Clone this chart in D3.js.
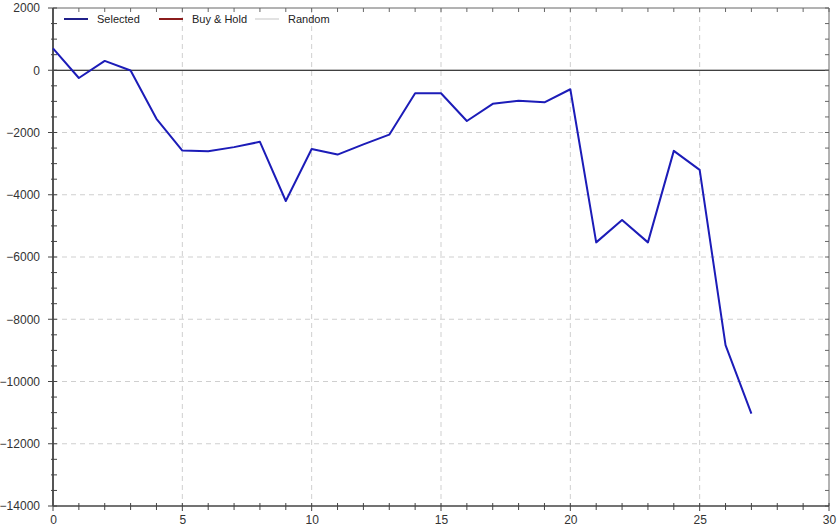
<!DOCTYPE html>
<html><head><meta charset="utf-8">
<script src="https://cdn.jsdelivr.net/npm/d3@7"></script>
<style>body{margin:0;background:#fff}svg{display:block;font-family:Arial,"Liberation Sans",sans-serif}</style>
</head><body><svg id="c" width="839" height="529"></svg>
<script>
const periods = d3.range(0, 28);
const selected = [700, -250, 300, -10, -1560, -2580, -2600, -2470, -2300, -4200, -2530, -2710, -2380, -2070, -740, -740, -1630, -1080, -980, -1030, -610, -5530, -4810, -5530, -2590, -3200, -8830, -11030];
const legendNames = ["Selected", "Buy & Hold", "Random"];
const legendColors = ["#20208a", "#8b1c1c", "#e2e2e2"];
const xTicks = [0, 5, 10, 15, 20, 25, 30];
const yTicks = [2000, 0, -2000, -4000, -6000, -8000, -10000, -12000, -14000];

const W = 839, H = 529, L = 53, R = 829, T = 8, B = 506;
const svg = d3.select("#c");
const x = d3.scaleLinear().domain([0, 30]).range([L, R]);
const y = d3.scaleLinear().domain([-14000, 2000]).range([B, T]);

svg.append("rect").attr("width", W).attr("height", H).attr("fill", "#fff");

// grid
const g = svg.append("g");
g.selectAll("line.gx").data(xTicks.slice(1, -1)).join("line")
  .attr("x1", d => x(d)).attr("x2", d => x(d)).attr("y1", T).attr("y2", B)
  .attr("stroke", "#cfcfcf").attr("stroke-dasharray", "5,4");
g.selectAll("line.gy").data(yTicks.filter(d => d !== 0 && d !== 2000 && d !== -14000)).join("line")
  .attr("x1", L).attr("x2", R).attr("y1", d => y(d)).attr("y2", d => y(d))
  .attr("stroke", "#cfcfcf").attr("stroke-dasharray", "5,4");

// zero line
svg.append("line").attr("x1", L).attr("x2", R).attr("y1", y(0)).attr("y2", y(0))
  .attr("stroke", "#000").attr("stroke-width", 1.2);

// frame top/right
svg.append("line").attr("x1", L).attr("x2", R).attr("y1", T).attr("y2", T).attr("stroke", "#666");
svg.append("line").attr("x1", R).attr("x2", R).attr("y1", T).attr("y2", B).attr("stroke", "#666");

// top/right inward ticks
const xMinor = d3.range(0, 31);
const yMinor = d3.range(-14000, 2001, 500);
svg.selectAll("line.tt").data(xMinor).join("line")
  .attr("x1", d => x(d)).attr("x2", d => x(d)).attr("y1", T).attr("y2", T + 4).attr("stroke", "#666");
svg.selectAll("line.rt").data(yMinor).join("line")
  .attr("x1", R - 4).attr("x2", R).attr("y1", d => y(d)).attr("y2", d => y(d)).attr("stroke", "#666");

// bottom axis
const xa = svg.append("g").attr("transform", `translate(0,${B})`)
  .call(d3.axisBottom(x).tickValues(xTicks).tickSize(0).tickPadding(9).tickFormat(d3.format("d")));
xa.select(".domain").remove();
xa.selectAll("text").attr("font-size", 12).attr("fill", "#333");
svg.append("line").attr("x1", L).attr("x2", R).attr("y1", B).attr("y2", B).attr("stroke", "#444").attr("stroke-width", 1.6);
svg.selectAll("line.bt").data(xMinor).join("line")
  .attr("x1", d => x(d)).attr("x2", d => x(d))
  .attr("y1", B - 3).attr("y2", d => B + (d % 5 === 0 ? 5 : 4)).attr("stroke", "#444");

// left axis
const ya = svg.append("g").attr("transform", `translate(${L},0)`)
  .call(d3.axisLeft(y).tickValues(yTicks).tickSize(0).tickPadding(13).tickFormat(d3.format("d")));
ya.select(".domain").remove();
ya.selectAll("text").attr("font-size", 12).attr("fill", "#333");
svg.append("line").attr("x1", L).attr("x2", L).attr("y1", T).attr("y2", B).attr("stroke", "#555").attr("stroke-width", 2);
svg.selectAll("line.lt").data(yMinor).join("line")
  .attr("x1", d => L - (d % 2000 === 0 ? 5 : 2)).attr("x2", L + 4)
  .attr("y1", d => y(d)).attr("y2", d => y(d)).attr("stroke", "#444");

// series
const line = d3.line().x((d, i) => x(periods[i])).y(d => y(d));
svg.append("path").datum(selected).attr("d", line)
  .attr("fill", "none").attr("stroke", "#1c1cb8").attr("stroke-width", 2).attr("stroke-linejoin", "round");

// legend
const lgX = [64, 159, 255];
const lg = svg.append("g");
legendNames.forEach((n, i) => {
  lg.append("line").attr("x1", lgX[i]).attr("x2", lgX[i] + 24).attr("y1", 19).attr("y2", 19)
    .attr("stroke", legendColors[i]).attr("stroke-width", 2);
  lg.append("text").attr("x", lgX[i] + 33).attr("y", 23).attr("font-size", 11).attr("fill", "#222").text(n);
});
</script></body></html>
